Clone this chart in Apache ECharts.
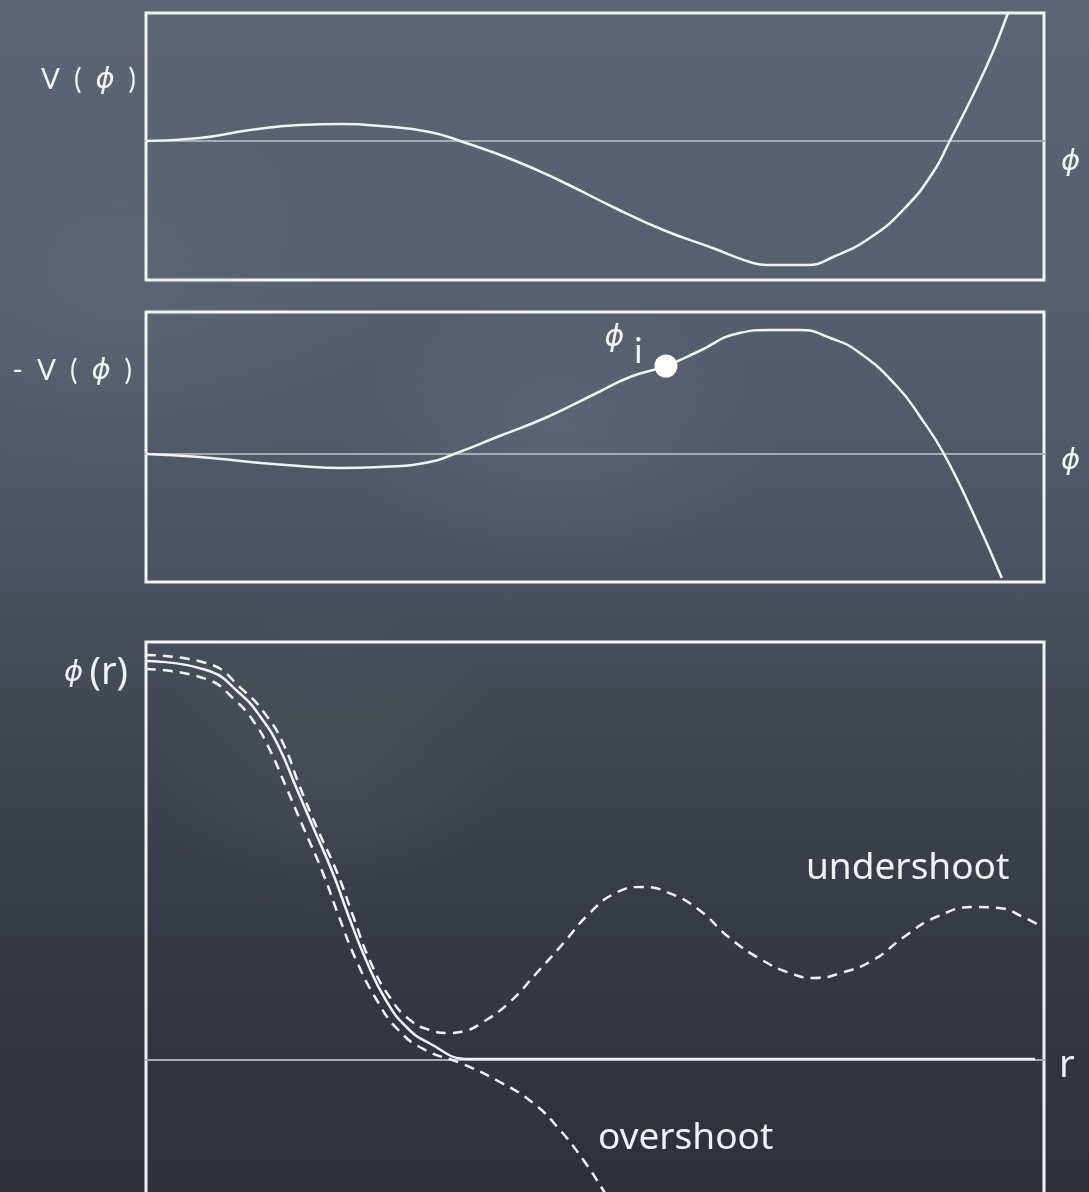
<!DOCTYPE html>
<html>
<head>
<meta charset="utf-8">
<script src="https://cdn.jsdelivr.net/npm/echarts@6/dist/echarts.min.js"></script>
<style>
  html, body { margin: 0; padding: 0; }
  body {
    width: 1089px; height: 1192px; overflow: hidden;
    background:
      radial-gradient(ellipse 320px 190px at 560px 430px, rgba(150,160,180,0.16), rgba(150,160,180,0) 70%),
      radial-gradient(ellipse 260px 220px at 330px 760px, rgba(140,150,170,0.12), rgba(140,150,170,0) 70%),
      radial-gradient(ellipse 380px 260px at 120px 300px, rgba(150,160,180,0.10), rgba(150,160,180,0) 70%),
      linear-gradient(to bottom, #5d6475 0%, #575e6e 25%, #4c5262 48%, #40454f 62%, #363a44 78%, #2e3139 100%);
  }
  /* the lower panel runs past the bottom edge of the page */
  #chart { width: 1089px; height: 1240px; }
</style>
</head>
<body>
<div id="chart"></div>
<script>
// Potential V(phi): false vacuum at phi = 0, true vacuum near phi = 7.
const vPhi = [0.00, 0.60, 1.16, 1.71, 2.19, 2.61, 3.16, 3.53, 4.09, 4.64, 5.20, 5.76, 6.31, 6.76, 6.92, 7.36, 7.65, 8.06, 8.43, 8.76, 8.95, 9.21, 9.43, 9.59, 9.73];
const vVal = [0.00, 0.03, 0.11, 0.16, 0.17, 0.15, 0.09, -0.01, -0.19, -0.41, -0.66, -0.89, -1.07, -1.22, -1.24, -1.24, -1.16, -0.97, -0.69, -0.32, 0.00, 0.46, 0.89, 1.26, 1.62];

// Inverted potential -V(phi) seen by the bounce in Euclidean time.
const negVPhi = [0.00, 0.60, 1.16, 1.71, 2.16, 2.61, 3.16, 3.46, 3.91, 4.47, 5.02, 5.39, 5.79, 6.14, 6.61, 6.95, 7.28, 7.62, 7.95, 8.37, 8.63, 8.88, 9.21, 9.53];
const negVVal = [0.00, -0.03, -0.08, -0.12, -0.14, -0.13, -0.08, 0.01, 0.17, 0.37, 0.61, 0.77, 0.88, 1.02, 1.21, 1.24, 1.24, 1.16, 1.01, 0.67, 0.36, 0.01, -0.59, -1.24];

// Release point phi_i on the inverted potential.
const phiI = [5.79, 0.88];

// Field profiles phi(r): exact bounce, undershoot and overshoot.
const rBounce = [0.00, 0.67, 1.04, 1.30, 1.48, 1.67, 1.86, 2.08, 2.26, 2.45, 2.67, 2.90, 3.15, 3.60, 5.00, 7.00, 9.90];
const phiBounce = [3.99, 3.90, 3.67, 3.40, 3.13, 2.73, 2.33, 1.87, 1.43, 1.00, 0.60, 0.33, 0.17, 0.01, 0.01, 0.01, 0.01];

const rUnder = [0.00, 0.67, 1.08, 1.36, 1.54, 1.71, 1.90, 2.13, 2.31, 2.49, 2.72, 2.94, 3.16, 3.36, 3.55, 3.72, 4.04, 4.35, 4.65, 4.92, 5.23, 5.53, 5.80, 6.16, 6.50, 6.86, 7.17, 7.43, 7.74, 8.10, 8.44, 8.80, 9.23, 9.50, 9.77, 9.94];
const phiUnder = [4.05, 3.97, 3.70, 3.42, 3.14, 2.74, 2.33, 1.87, 1.43, 1.00, 0.62, 0.40, 0.30, 0.27, 0.29, 0.36, 0.57, 0.87, 1.17, 1.45, 1.67, 1.73, 1.68, 1.50, 1.22, 1.00, 0.87, 0.82, 0.87, 1.00, 1.23, 1.43, 1.53, 1.52, 1.43, 1.35];

const rOver = [0.00, 0.67, 0.99, 1.21, 1.38, 1.56, 1.75, 1.97, 2.15, 2.34, 2.57, 2.81, 3.11, 3.50, 3.94, 4.31, 4.61, 4.87, 5.09, 5.22];
const phiOver = [3.91, 3.81, 3.60, 3.37, 3.10, 2.73, 2.33, 1.87, 1.43, 1.00, 0.60, 0.30, 0.10, -0.03, -0.22, -0.43, -0.70, -1.00, -1.30, -1.50];

// Text
const labelV = 'V';
const labelNegV = '-\u2002V';
const labelPhi = 'ϕ';
const labelR = 'r';
const labelUnder = 'undershoot';
const labelOver = 'overshoot';

const zip = (xs, ys) => xs.map((x, i) => [x, ys[i]]);

const CHALK = '#f1f2f4';
const AXIS_GREY = '#a6aab2';
const PHI_FONT = '"DejaVu Sans", sans-serif';
const THIN_FONT = 'Lato, "Open Sans", sans-serif';
const HAND_FONT = '"Noto Sans", sans-serif';

const gridBox = { show: true, borderColor: CHALK, borderWidth: 3, backgroundColor: 'transparent' };
const grids = [
  Object.assign({ left: 146, top: 13, width: 898, height: 267 }, gridBox),
  Object.assign({ left: 146, top: 312, width: 898, height: 270 }, gridBox),
  Object.assign({ left: 146, top: 642, width: 898, height: 580 }, gridBox)
];

const xAxisBase = {
  type: 'value', min: 0, max: 10,
  axisLine: { show: true, onZero: true, lineStyle: { color: AXIS_GREY, width: 2 } },
  axisTick: { show: false }, axisLabel: { show: false }, splitLine: { show: false }
};
const yAxisBase = {
  type: 'value',
  axisLine: { show: false }, axisTick: { show: false }, axisLabel: { show: false }, splitLine: { show: false }
};

const curveStyle = { color: CHALK, width: 2.5 };
const dashedStyle = { color: CHALK, width: 2.5, type: [10, 7] };

const lineSeries = (idx, data, style, z) => ({
  type: 'line', xAxisIndex: idx, yAxisIndex: idx, data: data,
  smooth: 0.5, showSymbol: false, symbol: 'none',
  lineStyle: style, z: z || 3, silent: true
});

// Label pieces, e.g. "V ( ϕ )" with wide letter spacing
const phiRich = {
  a: { fontFamily: THIN_FONT, fontSize: 28, color: CHALK },
  p: { fontFamily: PHI_FONT, fontStyle: 'italic', fontSize: 29, color: CHALK },
  r: { fontFamily: HAND_FONT, fontSize: 38, color: CHALK }
};
const textEl = (x, y, text, align, rich, extra) => ({
  type: 'text', x: x, y: y, silent: true,
  style: Object.assign({ text: text, align: align, verticalAlign: 'middle', rich: rich, fill: CHALK }, extra || {})
});

const chart = echarts.init(document.getElementById('chart'), null, { renderer: 'canvas' });
chart.setOption({
  animation: false,
  backgroundColor: 'transparent',
  grid: grids,
  xAxis: [0, 1, 2].map(i => Object.assign({ gridIndex: i }, xAxisBase)),
  yAxis: [
    Object.assign({ gridIndex: 0, min: -1.39, max: 1.28 }, yAxisBase),
    Object.assign({ gridIndex: 1, min: -1.28, max: 1.42 }, yAxisBase),
    Object.assign({ gridIndex: 2, min: -1.62, max: 4.18 }, yAxisBase)
  ],
  series: [
    lineSeries(0, zip(vPhi, vVal), curveStyle),
    lineSeries(1, zip(negVPhi, negVVal), curveStyle),
    {
      type: 'scatter', xAxisIndex: 1, yAxisIndex: 1, data: [phiI],
      symbol: 'circle', symbolSize: 23, itemStyle: { color: '#ffffff', opacity: 1 }, z: 5, silent: true,
      label: {
        show: true, position: 'left', distance: 12, offset: [0, -20],
        formatter: '{p|' + labelPhi + '}{s|i}',
        rich: {
          p: { fontFamily: PHI_FONT, fontStyle: 'italic', fontSize: 30, color: CHALK, verticalAlign: 'top' },
          s: { fontFamily: THIN_FONT, fontSize: 34, color: CHALK, padding: [12, 0, 0, 10], verticalAlign: 'bottom' }
        }
      }
    },
    lineSeries(2, zip(rUnder, phiUnder), dashedStyle, 3),
    lineSeries(2, zip(rOver, phiOver), dashedStyle, 3),
    lineSeries(2, zip(rBounce, phiBounce), curveStyle, 4)
  ],
  graphic: [
    textEl(136, 80, '{a|' + labelV + '\u2002(\u2002}{p|' + labelPhi + '}{a|\u2002)}', 'right', phiRich),
    textEl(132, 371, '{a|' + labelNegV + '\u2002(\u2002}{p|' + labelPhi + '}{a|\u2002)}', 'right', phiRich),
    textEl(128, 673, '{p|' + labelPhi + '}{r|\u2009(' + labelR + ')}', 'right', phiRich),
    textEl(1061, 162, '{p|' + labelPhi + '}', 'left', phiRich),
    textEl(1061, 461, '{p|' + labelPhi + '}', 'left', phiRich),
    textEl(1059, 1066, labelR, 'left', null, { font: '38px "Noto Sans", sans-serif' }),
    textEl(806, 868, labelUnder, 'left', null, { font: '37px "Noto Sans", sans-serif' }),
    textEl(598, 1138, labelOver, 'left', null, { font: '37px "Noto Sans", sans-serif' })
  ]
});
</script>
</body>
</html>
